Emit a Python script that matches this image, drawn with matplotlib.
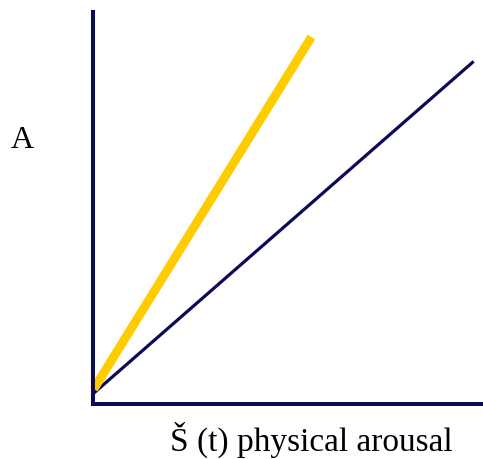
import matplotlib
matplotlib.use("Agg")
import matplotlib.pyplot as plt

# Two linear responses starting near the origin
yellow_x = [0.02, 5.60]
yellow_y = [0.38, 9.36]
navy_x = [0.0, 9.76]
navy_y = [0.26, 8.74]

NAVY = "#0b0b55"
YELLOW = "#ffcc00"

W, H = 483, 460
fig = plt.figure(figsize=(W / 100, H / 100), dpi=100)
ax = fig.add_axes([93 / W, 55 / H, (W - 93) / W, (405 - 13) / H])
ax.set_xlim(0, 10)
ax.set_ylim(0, 10)
ax.patch.set_alpha(0)

for side in ("top", "right"):
    ax.spines[side].set_visible(False)
for side in ("left", "bottom"):
    ax.spines[side].set_color(NAVY)
    ax.spines[side].set_linewidth(2.9)
ax.set_xticks([])
ax.set_yticks([])

ax.plot(navy_x, navy_y, color=NAVY, lw=2.3, solid_capstyle="butt", clip_on=False)
ax.plot(yellow_x, yellow_y, color=YELLOW, lw=6.4, solid_capstyle="butt", clip_on=False)

serif = ["Liberation Serif", "DejaVu Serif"]
fig.text(22 / W, 1 - 140 / H, "A", family=serif, fontsize=23, ha="center", va="center")
fig.text(311 / W, 1 - 440 / H, "Š (t) physical arousal", family=serif, fontsize=24,
         ha="center", va="center")

fig.savefig("out.png", dpi=100)
